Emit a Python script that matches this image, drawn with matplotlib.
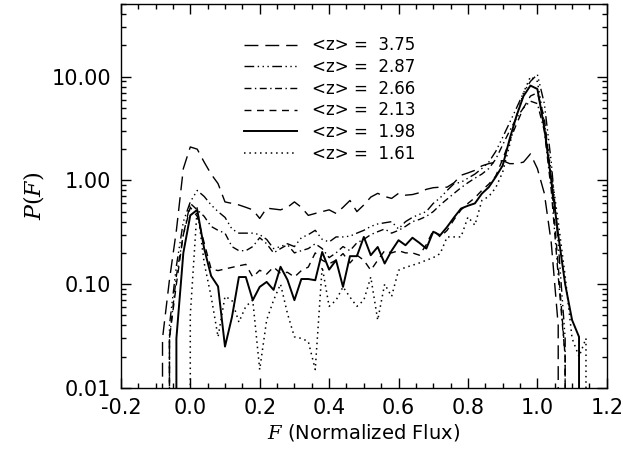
import matplotlib
matplotlib.use("Agg")
import matplotlib.pyplot as plt
from matplotlib.ticker import FixedLocator, MultipleLocator, LogLocator, FormatStrFormatter, NullFormatter

plt.rcParams["mathtext.fontset"] = "dejavuserif"

# flux bins (bin width 0.02)
flux = [-0.10, -0.08, -0.06, -0.04, -0.02, 0.00, 0.02, 0.04, 0.06, 0.08,
        0.10, 0.12, 0.14, 0.16, 0.18, 0.20, 0.22, 0.24, 0.26, 0.28,
        0.30, 0.32, 0.34, 0.36, 0.38, 0.40, 0.42, 0.44, 0.46, 0.48,
        0.50, 0.52, 0.54, 0.56, 0.58, 0.60, 0.62, 0.64, 0.66, 0.68,
        0.70, 0.72, 0.74, 0.76, 0.78, 0.80, 0.82, 0.84, 0.86, 0.88,
        0.90, 0.92, 0.94, 0.96, 0.98, 1.00, 1.02, 1.04, 1.06, 1.08,
        1.10, 1.12, 1.14, 1.16]

# P(F) for each mean redshift (0 = empty bin)
pf_375 = [0, 0.03, 0.11, 0.33, 1.3, 2.1, 2.0, 1.5, 1.15, 0.93,
          0.62, 0.60, 0.58, 0.55, 0.52, 0.43, 0.54, 0.53, 0.52, 0.55,
          0.62, 0.55, 0.46, 0.48, 0.50, 0.52, 0.48, 0.55, 0.64, 0.50,
          0.58, 0.69, 0.75, 0.70, 0.67, 0.75, 0.72, 0.73, 0.76, 0.82,
          0.85, 0.86, 0.86, 0.95, 1.12, 1.18, 1.25, 1.38, 1.45, 1.5,
          1.55, 1.45, 1.45, 1.5, 1.8, 1.3, 0.75, 0.25, 0.04, 0,
          0, 0, 0, 0]
pf_287 = [0, 0, 0.04, 0.15, 0.4, 0.62, 0.80, 0.70, 0.58, 0.50,
          0.44, 0.34, 0.31, 0.31, 0.31, 0.30, 0.27, 0.22, 0.23, 0.245,
          0.23, 0.28, 0.30, 0.33, 0.27, 0.255, 0.285, 0.285, 0.29, 0.31,
          0.33, 0.36, 0.38, 0.39, 0.40, 0.34, 0.40, 0.44, 0.47, 0.50,
          0.60, 0.68, 0.80, 0.93, 0.96, 1.05, 1.15, 1.3, 1.5, 1.9,
          2.6, 3.6, 5.0, 7.0, 9.0, 10.5, 5.5, 1.5, 0.25, 0.03,
          0, 0, 0, 0]
pf_266 = [0, 0, 0.03, 0.12, 0.3, 0.6, 0.52, 0.45, 0.36, 0.33,
          0.31, 0.23, 0.21, 0.21, 0.23, 0.28, 0.245, 0.20, 0.22, 0.24,
          0.20, 0.21, 0.22, 0.245, 0.22, 0.18, 0.20, 0.23, 0.21, 0.25,
          0.27, 0.30, 0.32, 0.34, 0.31, 0.33, 0.36, 0.40, 0.42, 0.45,
          0.50, 0.58, 0.66, 0.75, 0.85, 0.95, 1.05, 1.15, 1.3, 1.6,
          2.2, 3.0, 4.0, 5.0, 5.8, 5.5, 3.0, 0.8, 0.12, 0.02,
          0, 0, 0, 0]
pf_213 = [0, 0, 0.03, 0.1, 0.3, 0.55, 0.45, 0.25, 0.14, 0.135,
          0.14, 0.145, 0.15, 0.155, 0.117, 0.136, 0.125, 0.146, 0.127, 0.13,
          0.117, 0.135, 0.146, 0.20, 0.17, 0.157, 0.17, 0.197, 0.16, 0.19,
          0.17, 0.136, 0.17, 0.21, 0.20, 0.21, 0.20, 0.20, 0.19, 0.24,
          0.33, 0.285, 0.33, 0.42, 0.52, 0.60, 0.68, 0.8, 0.92, 1.1,
          1.6, 2.4, 3.5, 5.0, 6.5, 7.0, 4.0, 1.0, 0.15, 0.02,
          0, 0, 0, 0]
pf_198 = [0, 0, 0, 0.03, 0.2, 0.46, 0.52, 0.22, 0.12, 0.095,
          0.025, 0.048, 0.117, 0.117, 0.07, 0.094, 0.105, 0.088, 0.147, 0.11,
          0.07, 0.112, 0.112, 0.109, 0.204, 0.138, 0.17, 0.094, 0.186, 0.186,
          0.285, 0.19, 0.228, 0.158, 0.21, 0.265, 0.237, 0.28, 0.25, 0.22,
          0.32, 0.296, 0.356, 0.44, 0.535, 0.57, 0.6, 0.745, 0.86, 1.08,
          1.39, 2.5, 4.2, 6.5, 8.2, 7.6, 3.2, 1.0, 0.3, 0.1,
          0.045, 0.031, 0, 0]
pf_161 = [0, 0, 0, 0, 0, 0.05, 0.55, 0.16, 0.076, 0.031,
          0.076, 0.07, 0.043, 0.061, 0.07, 0.015, 0.045, 0.07, 0.10, 0.052,
          0.031, 0.03, 0.028, 0.015, 0.147, 0.061, 0.07, 0.094, 0.075, 0.061,
          0.07, 0.117, 0.045, 0.1, 0.076, 0.136, 0.145, 0.152, 0.16, 0.17,
          0.18, 0.197, 0.285, 0.285, 0.285, 0.444, 0.37, 0.64, 0.7, 0.85,
          1.2, 2.2, 4.2, 7.0, 10.0, 9.0, 3.5, 1.2, 0.4, 0.12,
          0.03, 0.02, 0.03, 0]

labels = ["<z> =  3.75", "<z> =  2.87", "<z> =  2.66", "<z> =  2.13", "<z> =  1.98", "<z> =  1.61"]

fig = plt.figure(figsize=(6.23, 4.59), dpi=100)
ax = fig.add_axes([0.194, 0.155, 0.780, 0.836])

ax.plot(flux, pf_375, color="k", lw=1.0, dashes=(10, 5), label=labels[0])
ax.plot(flux, pf_287, color="k", lw=1.0, dashes=(7, 2.5, 1, 2.5, 1, 2.5, 1, 2.5), label=labels[1])
ax.plot(flux, pf_266, color="k", lw=1.0, dashes=(5, 2.5, 1, 2.5), label=labels[2])
ax.plot(flux, pf_213, color="k", lw=1.0, dashes=(5, 4), label=labels[3])
ax.plot(flux, pf_198, color="k", lw=1.4, linestyle="-", label=labels[4])
ax.plot(flux, pf_161, color="k", lw=1.1, dashes=(1, 2.5), label=labels[5])

ax.set_yscale("log")
ax.set_xlim(-0.2, 1.2)
ax.set_ylim(0.01, 50)

ax.xaxis.set_major_locator(MultipleLocator(0.2))
ax.xaxis.set_minor_locator(MultipleLocator(0.05))
ax.xaxis.set_major_formatter(FormatStrFormatter("%.1f"))
ax.yaxis.set_major_locator(FixedLocator([0.01, 0.1, 1, 10]))
ax.yaxis.set_minor_locator(LogLocator(base=10, subs=range(2, 10)))
ax.yaxis.set_major_formatter(FormatStrFormatter("%.2f"))
ax.yaxis.set_minor_formatter(NullFormatter())

ax.tick_params(which="both", direction="in", top=True, right=True, labelsize=15, width=1.0)
ax.tick_params(which="major", length=7, pad=7)
ax.tick_params(which="minor", length=3.5)
for s in ax.spines.values():
    s.set_linewidth(1.0)

ax.set_xlabel(r"$F$ (Normalized Flux)", fontsize=14, labelpad=3)
ax.set_ylabel(r"$P(F)$", fontsize=16, labelpad=4)

ax.legend(loc="upper left", bbox_to_anchor=(0.222, 0.955), frameon=False, fontsize=12,
          handlelength=3.2, handletextpad=0.9, labelspacing=0.22)

fig.savefig("out.png", dpi=100)
